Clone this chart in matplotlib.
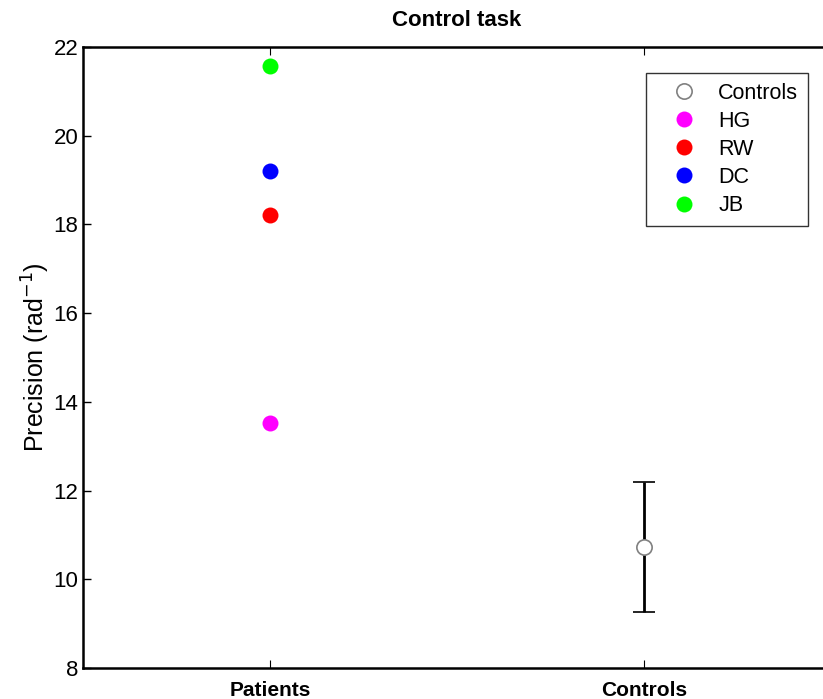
import matplotlib
matplotlib.use("Agg")
import matplotlib.pyplot as plt
from matplotlib.lines import Line2D

plt.rcParams["font.family"] = ["Liberation Sans", "DejaVu Sans"]

# data
GROUPS = ["Patients", "Controls"]
PATIENT_IDS = ["HG", "RW", "DC", "JB"]
PATIENT_VALS = [13.53, 18.21, 19.20, 21.58]
PATIENT_COLORS = ["#ff00ff", "#ff0000", "#0000ff", "#00ff00"]
CONTROL_MEAN = 10.73
CONTROL_ERR = 1.46

fig = plt.figure(figsize=(8.23, 6.99), dpi=100)
ax = fig.add_axes([83 / 823, 31 / 699, 748 / 823, 621 / 699])

ax.errorbar([2], [CONTROL_MEAN], yerr=[CONTROL_ERR], fmt="o",
            color="black", ecolor="black", elinewidth=2, capsize=8,
            capthick=2, ms=11, mfc="white", mec="#808080", mew=1.2,
            zorder=3)

handles = [Line2D([], [], ls="none", marker="o", ms=11, mfc="white",
                  mec="#808080", mew=1.2, label="Controls")]
for pid, v, c in zip(PATIENT_IDS, PATIENT_VALS, PATIENT_COLORS):
    h, = ax.plot([1], [v], "o", color=c, ms=11.5, mec="none", label=pid)
    handles.append(h)

ax.set_xlim(0.5, 2.5)
ax.set_ylim(8, 22)
ax.set_xticks([1, 2])
ax.set_xticklabels(GROUPS, fontsize=15, fontweight="bold")
ax.set_yticks(range(8, 23, 2))
ax.tick_params(axis="y", labelsize=16, direction="in", length=6,
               right=False, width=1)
ax.tick_params(axis="x", direction="in", length=6, top=True, width=0.8,
               pad=9)
for s in ax.spines.values():
    s.set_linewidth(1.8)

ax.set_ylabel("Precision (rad$^{-1}$)", fontsize=18, labelpad=1)
ax.set_title("Control task", fontsize=16, fontweight="bold", pad=15)

leg = ax.legend(handles=handles, loc="upper right",
                bbox_to_anchor=((808 - 83) / 748, (668 - 73) / 621),
                bbox_transform=ax.transAxes, fontsize=15.5, frameon=True,
                fancybox=False, edgecolor="black", handletextpad=0.3,
                borderpad=0.45, labelspacing=0.33, handlelength=2.6,
                borderaxespad=0)
leg.get_frame().set_linewidth(1.0)

fig.savefig("out.png", dpi=100)
